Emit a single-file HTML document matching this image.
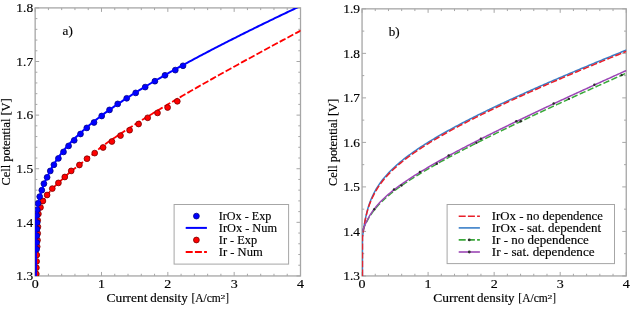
<!DOCTYPE html>
<html><head><meta charset="utf-8"><style>html,body{margin:0;padding:0;background:#fff;overflow:hidden}svg{display:block;will-change:transform}</style></head>
<body><svg width="637" height="311" viewBox="0 0 637 311" font-family='"Liberation Serif", serif' fill="#000">
<style>text{stroke:#000;stroke-width:0.15px}</style>
<rect width="637" height="311" fill="#fff"/>
<clipPath id="cL"><rect x="35.15" y="7.9" width="265.35" height="268.05"/></clipPath>
<clipPath id="cR"><rect x="362.05" y="8.85" width="264.2" height="267.09999999999997"/></clipPath>
<path d="M35.15 275.95v-4M35.15 7.90v4M48.42 275.95v-2.2M48.42 7.90v2.2M61.69 275.95v-2.2M61.69 7.90v2.2M74.95 275.95v-2.2M74.95 7.90v2.2M88.22 275.95v-2.2M88.22 7.90v2.2M101.49 275.95v-4M101.49 7.90v4M114.76 275.95v-2.2M114.76 7.90v2.2M128.02 275.95v-2.2M128.02 7.90v2.2M141.29 275.95v-2.2M141.29 7.90v2.2M154.56 275.95v-2.2M154.56 7.90v2.2M167.83 275.95v-4M167.83 7.90v4M181.09 275.95v-2.2M181.09 7.90v2.2M194.36 275.95v-2.2M194.36 7.90v2.2M207.63 275.95v-2.2M207.63 7.90v2.2M220.90 275.95v-2.2M220.90 7.90v2.2M234.16 275.95v-4M234.16 7.90v4M247.43 275.95v-2.2M247.43 7.90v2.2M260.70 275.95v-2.2M260.70 7.90v2.2M273.97 275.95v-2.2M273.97 7.90v2.2M287.23 275.95v-2.2M287.23 7.90v2.2M300.50 275.95v-4M300.50 7.90v4M35.15 275.95h4M300.50 275.95h-4M35.15 265.23h2.2M300.50 265.23h-2.2M35.15 254.51h2.2M300.50 254.51h-2.2M35.15 243.78h2.2M300.50 243.78h-2.2M35.15 233.06h2.2M300.50 233.06h-2.2M35.15 222.34h4M300.50 222.34h-4M35.15 211.62h2.2M300.50 211.62h-2.2M35.15 200.90h2.2M300.50 200.90h-2.2M35.15 190.17h2.2M300.50 190.17h-2.2M35.15 179.45h2.2M300.50 179.45h-2.2M35.15 168.73h4M300.50 168.73h-4M35.15 158.01h2.2M300.50 158.01h-2.2M35.15 147.29h2.2M300.50 147.29h-2.2M35.15 136.56h2.2M300.50 136.56h-2.2M35.15 125.84h2.2M300.50 125.84h-2.2M35.15 115.12h4M300.50 115.12h-4M35.15 104.40h2.2M300.50 104.40h-2.2M35.15 93.68h2.2M300.50 93.68h-2.2M35.15 82.95h2.2M300.50 82.95h-2.2M35.15 72.23h2.2M300.50 72.23h-2.2M35.15 61.51h4M300.50 61.51h-4M35.15 50.79h2.2M300.50 50.79h-2.2M35.15 40.07h2.2M300.50 40.07h-2.2M35.15 29.34h2.2M300.50 29.34h-2.2M35.15 18.62h2.2M300.50 18.62h-2.2M35.15 7.90h4M300.50 7.90h-4" stroke="#a6a6a6" stroke-width="1" fill="none"/>
<rect x="35.15" y="7.90" width="265.35" height="268.05" fill="none" stroke="#a6a6a6" stroke-width="1.3"/>
<g clip-path="url(#cL)">
<path d="M35.95 277.95 L35.95 230.00 L37.70 220.30 L38.40 213.90 L40.50 207.40 L42.90 201.00 L47.10 195.00 L52.30 188.60 L58.40 182.90 L64.80 177.00 L71.20 170.90 L79.40 165.00 L87.00 158.70 L94.70 153.10 L100.00 147.82 L101.37 146.84 L102.74 145.87 L104.10 144.91 L105.47 143.95 L106.84 143.00 L108.21 142.05 L109.58 141.11 L110.94 140.18 L112.31 139.25 L113.68 138.32 L115.05 137.40 L116.41 136.49 L117.78 135.58 L119.15 134.67 L120.52 133.77 L121.89 132.87 L123.25 131.97 L124.62 131.08 L125.99 130.19 L127.36 129.31 L128.73 128.43 L130.09 127.55 L131.46 126.68 L132.83 125.81 L134.20 124.94 L135.57 124.08 L136.93 123.22 L138.30 122.36 L139.67 121.50 L141.04 120.65 L142.40 119.80 L143.77 118.95 L145.14 118.11 L146.51 117.26 L147.88 116.42 L149.24 115.59 L150.61 114.75 L151.98 113.92 L153.35 113.09 L154.72 112.26 L156.08 111.43 L157.45 110.60 L158.82 109.78 L160.19 108.96 L161.56 108.14 L162.92 107.32 L164.29 106.51 L165.66 105.69 L167.03 104.88 L168.39 104.07 L169.76 103.26 L171.13 102.46 L172.50 101.65 L173.87 100.85 L175.23 100.04 L176.60 99.24 L177.97 98.44 L179.34 97.65 L180.71 96.85 L182.07 96.06 L183.44 95.26 L184.81 94.47 L186.18 93.68 L187.55 92.89 L188.91 92.10 L190.28 91.31 L191.65 90.53 L193.02 89.74 L194.38 88.96 L195.75 88.18 L197.12 87.40 L198.49 86.62 L199.86 85.84 L201.22 85.06 L202.59 84.28 L203.96 83.51 L205.33 82.73 L206.70 81.96 L208.06 81.19 L209.43 80.42 L210.80 79.65 L212.17 78.88 L213.54 78.11 L214.90 77.34 L216.27 76.57 L217.64 75.81 L219.01 75.04 L220.38 74.28 L221.74 73.51 L223.11 72.75 L224.48 71.99 L225.85 71.23 L227.21 70.47 L228.58 69.71 L229.95 68.95 L231.32 68.20 L232.69 67.44 L234.05 66.68 L235.42 65.93 L236.79 65.17 L238.16 64.42 L239.53 63.67 L240.89 62.92 L242.26 62.16 L243.63 61.41 L245.00 60.66 L246.37 59.91 L247.73 59.16 L249.10 58.42 L250.47 57.67 L251.84 56.92 L253.20 56.18 L254.57 55.43 L255.94 54.69 L257.31 53.94 L258.68 53.20 L260.04 52.45 L261.41 51.71 L262.78 50.97 L264.15 50.23 L265.52 49.49 L266.88 48.75 L268.25 48.01 L269.62 47.27 L270.99 46.53 L272.36 45.79 L273.72 45.05 L275.09 44.32 L276.46 43.58 L277.83 42.85 L279.19 42.11 L280.56 41.38 L281.93 40.64 L283.30 39.91 L284.67 39.17 L286.03 38.44 L287.40 37.71 L288.77 36.98 L290.14 36.24 L291.51 35.51 L292.87 34.78 L294.24 34.05 L295.61 33.32 L296.98 32.59 L298.35 31.86 L299.71 31.14 L301.08 30.41 L302.45 29.68 L303.82 28.95" stroke="#ff0000" stroke-width="1.8" fill="none" stroke-dasharray="6.6 2.2" stroke-dashoffset="4.5"/>
<circle cx="37.9" cy="226.8" r="2.9" fill="#ff0000" stroke="#7a0000" stroke-width="0.8"/>
<circle cx="37.7" cy="233.4" r="2.9" fill="#ff0000" stroke="#7a0000" stroke-width="0.8"/>
<circle cx="37.5" cy="240.2" r="2.9" fill="#ff0000" stroke="#7a0000" stroke-width="0.8"/>
<circle cx="37.2" cy="246.7" r="2.9" fill="#ff0000" stroke="#7a0000" stroke-width="0.8"/>
<circle cx="36.8" cy="255" r="2.9" fill="#ff0000" stroke="#7a0000" stroke-width="0.8"/>
<circle cx="36.6" cy="261.4" r="2.9" fill="#ff0000" stroke="#7a0000" stroke-width="0.8"/>
<circle cx="36.4" cy="267.7" r="2.9" fill="#ff0000" stroke="#7a0000" stroke-width="0.8"/>
<circle cx="36.3" cy="274" r="2.9" fill="#ff0000" stroke="#7a0000" stroke-width="0.8"/>
<circle cx="37.7" cy="220.3" r="2.9" fill="#ff0000" stroke="#7a0000" stroke-width="0.8"/>
<circle cx="38.4" cy="213.9" r="2.9" fill="#ff0000" stroke="#7a0000" stroke-width="0.8"/>
<circle cx="40.5" cy="207.4" r="2.9" fill="#ff0000" stroke="#7a0000" stroke-width="0.8"/>
<circle cx="42.9" cy="201" r="2.9" fill="#ff0000" stroke="#7a0000" stroke-width="0.8"/>
<circle cx="47.1" cy="195" r="2.9" fill="#ff0000" stroke="#7a0000" stroke-width="0.8"/>
<circle cx="52.3" cy="188.6" r="2.9" fill="#ff0000" stroke="#7a0000" stroke-width="0.8"/>
<circle cx="58.4" cy="182.9" r="2.9" fill="#ff0000" stroke="#7a0000" stroke-width="0.8"/>
<circle cx="64.8" cy="177" r="2.9" fill="#ff0000" stroke="#7a0000" stroke-width="0.8"/>
<circle cx="71.2" cy="170.9" r="2.9" fill="#ff0000" stroke="#7a0000" stroke-width="0.8"/>
<circle cx="79.4" cy="165" r="2.9" fill="#ff0000" stroke="#7a0000" stroke-width="0.8"/>
<circle cx="87" cy="158.7" r="2.9" fill="#ff0000" stroke="#7a0000" stroke-width="0.8"/>
<circle cx="94.7" cy="153.1" r="2.9" fill="#ff0000" stroke="#7a0000" stroke-width="0.8"/>
<circle cx="103.1" cy="147.5" r="2.9" fill="#ff0000" stroke="#7a0000" stroke-width="0.8"/>
<circle cx="111.9" cy="141.5" r="2.9" fill="#ff0000" stroke="#7a0000" stroke-width="0.8"/>
<circle cx="120.5" cy="135.6" r="2.9" fill="#ff0000" stroke="#7a0000" stroke-width="0.8"/>
<circle cx="129.6" cy="130.2" r="2.9" fill="#ff0000" stroke="#7a0000" stroke-width="0.8"/>
<circle cx="138.6" cy="124" r="2.9" fill="#ff0000" stroke="#7a0000" stroke-width="0.8"/>
<circle cx="147.7" cy="117.8" r="2.9" fill="#ff0000" stroke="#7a0000" stroke-width="0.8"/>
<circle cx="157.5" cy="112.9" r="2.9" fill="#ff0000" stroke="#7a0000" stroke-width="0.8"/>
<circle cx="167.6" cy="107.5" r="2.9" fill="#ff0000" stroke="#7a0000" stroke-width="0.8"/>
<circle cx="177.3" cy="101.3" r="2.9" fill="#ff0000" stroke="#7a0000" stroke-width="0.8"/>
<circle cx="37.2" cy="222.5" r="2.9" fill="#0000ff" stroke="#000080" stroke-width="0.8"/>
<circle cx="37.0" cy="229" r="2.9" fill="#0000ff" stroke="#000080" stroke-width="0.8"/>
<circle cx="36.8" cy="235.7" r="2.9" fill="#0000ff" stroke="#000080" stroke-width="0.8"/>
<circle cx="36.7" cy="242.5" r="2.9" fill="#0000ff" stroke="#000080" stroke-width="0.8"/>
<circle cx="36.6" cy="249.2" r="2.9" fill="#0000ff" stroke="#000080" stroke-width="0.8"/>
<circle cx="36.8" cy="215.5" r="2.9" fill="#0000ff" stroke="#000080" stroke-width="0.8"/>
<circle cx="37.3" cy="209.8" r="2.9" fill="#0000ff" stroke="#000080" stroke-width="0.8"/>
<circle cx="38" cy="203.4" r="2.9" fill="#0000ff" stroke="#000080" stroke-width="0.8"/>
<circle cx="39.7" cy="196.6" r="2.9" fill="#0000ff" stroke="#000080" stroke-width="0.8"/>
<circle cx="41.8" cy="190.2" r="2.9" fill="#0000ff" stroke="#000080" stroke-width="0.8"/>
<circle cx="43.9" cy="183.7" r="2.9" fill="#0000ff" stroke="#000080" stroke-width="0.8"/>
<circle cx="47.1" cy="177.3" r="2.9" fill="#0000ff" stroke="#000080" stroke-width="0.8"/>
<circle cx="50.3" cy="170.9" r="2.9" fill="#0000ff" stroke="#000080" stroke-width="0.8"/>
<circle cx="53.9" cy="164.8" r="2.9" fill="#0000ff" stroke="#000080" stroke-width="0.8"/>
<circle cx="58.4" cy="158.4" r="2.9" fill="#0000ff" stroke="#000080" stroke-width="0.8"/>
<circle cx="63.5" cy="151.9" r="2.9" fill="#0000ff" stroke="#000080" stroke-width="0.8"/>
<circle cx="68.6" cy="145.9" r="2.9" fill="#0000ff" stroke="#000080" stroke-width="0.8"/>
<circle cx="74.2" cy="140.3" r="2.9" fill="#0000ff" stroke="#000080" stroke-width="0.8"/>
<circle cx="80.5" cy="134" r="2.9" fill="#0000ff" stroke="#000080" stroke-width="0.8"/>
<circle cx="86.8" cy="127.9" r="2.9" fill="#0000ff" stroke="#000080" stroke-width="0.8"/>
<circle cx="94" cy="122.5" r="2.9" fill="#0000ff" stroke="#000080" stroke-width="0.8"/>
<circle cx="101.7" cy="116" r="2.9" fill="#0000ff" stroke="#000080" stroke-width="0.8"/>
<circle cx="109.5" cy="109.9" r="2.9" fill="#0000ff" stroke="#000080" stroke-width="0.8"/>
<circle cx="117.7" cy="103.9" r="2.9" fill="#0000ff" stroke="#000080" stroke-width="0.8"/>
<circle cx="126.7" cy="98.3" r="2.9" fill="#0000ff" stroke="#000080" stroke-width="0.8"/>
<circle cx="135.7" cy="92.9" r="2.9" fill="#0000ff" stroke="#000080" stroke-width="0.8"/>
<circle cx="145.2" cy="87.1" r="2.9" fill="#0000ff" stroke="#000080" stroke-width="0.8"/>
<circle cx="154.9" cy="81.2" r="2.9" fill="#0000ff" stroke="#000080" stroke-width="0.8"/>
<circle cx="165" cy="75.3" r="2.9" fill="#0000ff" stroke="#000080" stroke-width="0.8"/>
<circle cx="175.3" cy="70.1" r="2.9" fill="#0000ff" stroke="#000080" stroke-width="0.8"/>
<circle cx="183" cy="65.8" r="2.9" fill="#0000ff" stroke="#000080" stroke-width="0.8"/>
<path d="M35.95 277.95 L35.95 218.00 L37.30 209.80 L38.00 203.40 L39.70 196.60 L41.80 190.20 L43.90 183.70 L47.10 177.30 L50.00 171.08 L51.70 167.91 L53.41 164.98 L55.11 162.23 L56.81 159.64 L58.52 157.20 L60.22 154.87 L61.92 152.65 L63.63 150.53 L65.33 148.48 L67.03 146.52 L68.74 144.61 L70.44 142.77 L72.15 140.99 L73.85 139.25 L75.55 137.56 L77.26 135.91 L78.96 134.31 L80.66 132.73 L82.37 131.19 L84.07 129.69 L85.77 128.21 L87.48 126.76 L89.18 125.33 L90.88 123.93 L92.59 122.55 L94.29 121.19 L95.99 119.85 L97.70 118.53 L99.40 117.23 L101.10 115.94 L102.81 114.67 L104.51 113.42 L106.21 112.18 L107.92 110.95 L109.62 109.74 L111.32 108.54 L113.03 107.36 L114.73 106.18 L116.44 105.02 L118.14 103.86 L119.84 102.72 L121.55 101.58 L123.25 100.46 L124.95 99.34 L126.66 98.24 L128.36 97.14 L130.06 96.05 L131.77 94.96 L133.47 93.89 L135.17 92.82 L136.88 91.76 L138.58 90.71 L140.28 89.66 L141.99 88.62 L143.69 87.58 L145.39 86.55 L147.10 85.53 L148.80 84.51 L150.50 83.50 L152.21 82.49 L153.91 81.49 L155.62 80.50 L157.32 79.50 L159.02 78.52 L160.73 77.53 L162.43 76.56 L164.13 75.58 L165.84 74.61 L167.54 73.65 L169.24 72.69 L170.95 71.73 L172.65 70.77 L174.35 69.82 L176.06 68.88 L177.76 67.94 L179.46 67.00 L181.17 66.06 L182.87 65.13 L184.57 64.20 L186.28 63.27 L187.98 62.35 L189.68 61.43 L191.39 60.51 L193.09 59.60 L194.79 58.69 L196.50 57.78 L198.20 56.87 L199.91 55.97 L201.61 55.07 L203.31 54.17 L205.02 53.27 L206.72 52.38 L208.42 51.49 L210.13 50.60 L211.83 49.71 L213.53 48.83 L215.24 47.95 L216.94 47.07 L218.64 46.19 L220.35 45.32 L222.05 44.44 L223.75 43.57 L225.46 42.70 L227.16 41.84 L228.86 40.97 L230.57 40.11 L232.27 39.24 L233.97 38.39 L235.68 37.53 L237.38 36.67 L239.09 35.82 L240.79 34.96 L242.49 34.11 L244.20 33.26 L245.90 32.41 L247.60 31.57 L249.31 30.72 L251.01 29.88 L252.71 29.04 L254.42 28.20 L256.12 27.36 L257.82 26.52 L259.53 25.69 L261.23 24.85 L262.93 24.02 L264.64 23.19 L266.34 22.36 L268.04 21.53 L269.75 20.70 L271.45 19.87 L273.15 19.05 L274.86 18.22 L276.56 17.40 L278.26 16.58 L279.97 15.76 L281.67 14.94 L283.38 14.12 L285.08 13.30 L286.78 12.49 L288.49 11.67 L290.19 10.86 L291.89 10.05 L293.60 9.23 L295.30 8.42 L297.00 7.61 L298.71 6.81 L300.41 6.00 L302.11 5.19 L303.82 4.39" stroke="#0000ff" stroke-width="2" fill="none"/>
</g>
<text x="33.15" y="280.25" font-size="11.6" text-anchor="end" textLength="16.8" lengthAdjust="spacingAndGlyphs" >1.3</text>
<text x="33.15" y="226.64" font-size="11.6" text-anchor="end" textLength="16.8" lengthAdjust="spacingAndGlyphs" >1.4</text>
<text x="33.15" y="173.03" font-size="11.6" text-anchor="end" textLength="16.8" lengthAdjust="spacingAndGlyphs" >1.5</text>
<text x="33.15" y="119.42" font-size="11.6" text-anchor="end" textLength="16.8" lengthAdjust="spacingAndGlyphs" >1.6</text>
<text x="33.15" y="65.81" font-size="11.6" text-anchor="end" textLength="16.8" lengthAdjust="spacingAndGlyphs" >1.7</text>
<text x="33.15" y="12.20" font-size="11.6" text-anchor="end" textLength="16.8" lengthAdjust="spacingAndGlyphs" >1.8</text>
<text x="35.15" y="288.10" font-size="11.6" text-anchor="middle" textLength="7.0" lengthAdjust="spacingAndGlyphs" >0</text>
<text x="101.49" y="288.10" font-size="11.6" text-anchor="middle" textLength="7.0" lengthAdjust="spacingAndGlyphs" >1</text>
<text x="167.83" y="288.10" font-size="11.6" text-anchor="middle" textLength="7.0" lengthAdjust="spacingAndGlyphs" >2</text>
<text x="234.16" y="288.10" font-size="11.6" text-anchor="middle" textLength="7.0" lengthAdjust="spacingAndGlyphs" >3</text>
<text x="300.50" y="288.10" font-size="11.6" text-anchor="middle" textLength="7.0" lengthAdjust="spacingAndGlyphs" >4</text>
<text x="106.40" y="302.40" font-size="11.6" text-anchor="start" textLength="41.2" lengthAdjust="spacingAndGlyphs" >Current</text>
<text x="150.20" y="302.40" font-size="11.6" text-anchor="start" textLength="37.5" lengthAdjust="spacingAndGlyphs" >density</text>
<text x="191.40" y="302.40" font-size="11.6" text-anchor="start" textLength="29.4" lengthAdjust="spacingAndGlyphs" >[A/cm</text>
<text x="220.60" y="298.50" font-size="7.0" text-anchor="start" textLength="4.8" lengthAdjust="spacingAndGlyphs" >2</text>
<text x="225.60" y="302.40" font-size="11.6" text-anchor="start" textLength="3.4" lengthAdjust="spacingAndGlyphs" >]</text>
<text transform="translate(9.75 141.92) rotate(-90)" x="0" y="0" font-size="11.8" text-anchor="middle" textLength="87" lengthAdjust="spacingAndGlyphs">Cell potential [V]</text>
<text x="62.60" y="35.20" font-size="13.1" text-anchor="start" >a)</text>
<path d="M362.05 275.95v-4M362.05 8.85v4M375.26 275.95v-2.2M375.26 8.85v2.2M388.47 275.95v-2.2M388.47 8.85v2.2M401.68 275.95v-2.2M401.68 8.85v2.2M414.89 275.95v-2.2M414.89 8.85v2.2M428.10 275.95v-4M428.10 8.85v4M441.31 275.95v-2.2M441.31 8.85v2.2M454.52 275.95v-2.2M454.52 8.85v2.2M467.73 275.95v-2.2M467.73 8.85v2.2M480.94 275.95v-2.2M480.94 8.85v2.2M494.15 275.95v-4M494.15 8.85v4M507.36 275.95v-2.2M507.36 8.85v2.2M520.57 275.95v-2.2M520.57 8.85v2.2M533.78 275.95v-2.2M533.78 8.85v2.2M546.99 275.95v-2.2M546.99 8.85v2.2M560.20 275.95v-4M560.20 8.85v4M573.41 275.95v-2.2M573.41 8.85v2.2M586.62 275.95v-2.2M586.62 8.85v2.2M599.83 275.95v-2.2M599.83 8.85v2.2M613.04 275.95v-2.2M613.04 8.85v2.2M626.25 275.95v-4M626.25 8.85v4M362.05 275.95h4M626.25 275.95h-4M362.05 253.69h2.2M626.25 253.69h-2.2M362.05 231.43h4M626.25 231.43h-4M362.05 209.17h2.2M626.25 209.17h-2.2M362.05 186.92h4M626.25 186.92h-4M362.05 164.66h2.2M626.25 164.66h-2.2M362.05 142.40h4M626.25 142.40h-4M362.05 120.14h2.2M626.25 120.14h-2.2M362.05 97.88h4M626.25 97.88h-4M362.05 75.62h2.2M626.25 75.62h-2.2M362.05 53.37h4M626.25 53.37h-4M362.05 31.11h2.2M626.25 31.11h-2.2M362.05 8.85h4M626.25 8.85h-4" stroke="#a6a6a6" stroke-width="1" fill="none"/>
<rect x="362.05" y="8.85" width="264.20" height="267.10" fill="none" stroke="#a6a6a6" stroke-width="1.3"/>
<g clip-path="url(#cR)">
<path d="M362.45 275.95 L362.46 237.29 L362.46 237.28 L362.46 237.27 L362.46 237.26 L362.46 237.24 L362.46 237.23 L362.47 237.21 L362.47 237.19 L362.47 237.16 L362.48 237.13 L362.48 237.10 L362.49 237.06 L362.49 237.01 L362.50 236.96 L362.51 236.89 L362.52 236.82 L362.53 236.73 L362.55 236.62 L362.57 236.50 L362.59 236.35 L362.61 236.19 L362.64 235.99 L362.67 235.76 L362.71 235.48 L362.75 235.16 L362.80 234.79 L362.87 234.36 L362.94 233.85 L363.02 233.25 L363.12 232.56 L363.24 231.75 L363.37 230.82 L363.53 229.74 L363.72 228.50 L363.94 227.08 L364.20 225.47 L364.50 223.67 L364.85 221.66 L365.27 219.46 L365.75 217.06 L365.75 217.06 L367.06 211.46 L368.37 206.84 L369.69 202.91 L371.00 199.50 L372.31 196.48 L373.62 193.75 L374.93 191.27 L376.24 188.98 L377.55 186.85 L378.86 184.86 L380.17 182.99 L381.49 181.22 L382.80 179.53 L384.11 177.92 L385.42 176.38 L386.73 174.90 L388.04 173.47 L389.35 172.09 L390.66 170.76 L391.97 169.47 L393.28 168.21 L394.60 166.99 L395.91 165.80 L397.22 164.64 L398.53 163.50 L399.84 162.39 L401.15 161.30 L402.46 160.24 L403.77 159.19 L405.08 158.17 L406.39 157.16 L407.71 156.16 L409.02 155.19 L410.33 154.23 L411.64 153.28 L412.95 152.35 L414.26 151.43 L415.57 150.52 L416.88 149.62 L418.19 148.73 L419.51 147.86 L420.82 146.99 L422.13 146.13 L423.44 145.29 L424.75 144.45 L426.06 143.62 L427.37 142.80 L428.68 141.98 L429.99 141.17 L431.30 140.37 L432.62 139.58 L433.93 138.79 L435.24 138.01 L436.55 137.24 L437.86 136.47 L439.17 135.71 L440.48 134.95 L441.79 134.20 L443.10 133.45 L444.42 132.71 L445.73 131.98 L447.04 131.24 L448.35 130.52 L449.66 129.79 L450.97 129.08 L452.28 128.36 L453.59 127.65 L454.90 126.94 L456.21 126.24 L457.53 125.54 L458.84 124.85 L460.15 124.16 L461.46 123.47 L462.77 122.78 L464.08 122.10 L465.39 121.42 L466.70 120.75 L468.01 120.07 L469.32 119.40 L470.64 118.74 L471.95 118.07 L473.26 117.41 L474.57 116.75 L475.88 116.10 L477.19 115.44 L478.50 114.79 L479.81 114.14 L481.12 113.50 L482.44 112.85 L483.75 112.21 L485.06 111.57 L486.37 110.93 L487.68 110.30 L488.99 109.66 L490.30 109.03 L491.61 108.40 L492.92 107.78 L494.23 107.15 L495.55 106.53 L496.86 105.91 L498.17 105.29 L499.48 104.67 L500.79 104.05 L502.10 103.44 L503.41 102.82 L504.72 102.21 L506.03 101.60 L507.35 100.99 L508.66 100.39 L509.97 99.78 L511.28 99.18 L512.59 98.58 L513.90 97.98 L515.21 97.38 L516.52 96.78 L517.83 96.18 L519.14 95.59 L520.46 94.99 L521.77 94.40 L523.08 93.81 L524.39 93.22 L525.70 92.63 L527.01 92.04 L528.32 91.46 L529.63 90.87 L530.94 90.29 L532.25 89.71 L533.57 89.12 L534.88 88.54 L536.19 87.96 L537.50 87.39 L538.81 86.81 L540.12 86.23 L541.43 85.66 L542.74 85.08 L544.05 84.51 L545.37 83.94 L546.68 83.37 L547.99 82.79 L549.30 82.23 L550.61 81.66 L551.92 81.09 L553.23 80.52 L554.54 79.96 L555.85 79.39 L557.16 78.83 L558.48 78.27 L559.79 77.70 L561.10 77.14 L562.41 76.58 L563.72 76.02 L565.03 75.46 L566.34 74.90 L567.65 74.35 L568.96 73.79 L570.28 73.23 L571.59 72.68 L572.90 72.12 L574.21 71.57 L575.52 71.02 L576.83 70.47 L578.14 69.91 L579.45 69.36 L580.76 68.81 L582.07 68.26 L583.39 67.72 L584.70 67.17 L586.01 66.62 L587.32 66.07 L588.63 65.53 L589.94 64.98 L591.25 64.44 L592.56 63.89 L593.87 63.35 L595.18 62.81 L596.50 62.26 L597.81 61.72 L599.12 61.18 L600.43 60.64 L601.74 60.10 L603.05 59.56 L604.36 59.02 L605.67 58.48 L606.98 57.95 L608.30 57.41 L609.61 56.87 L610.92 56.34 L612.23 55.80 L613.54 55.26 L614.85 54.73 L616.16 54.20 L617.47 53.66 L618.78 53.13 L620.09 52.60 L621.41 52.06 L622.72 51.53 L624.03 51.00 L625.34 50.47 L626.65 49.94" stroke="#3a7fc8" stroke-width="1.5" fill="none"/>
<path d="M362.45 275.95 L362.46 237.29 L362.46 237.28 L362.46 237.27 L362.46 237.26 L362.46 237.25 L362.46 237.23 L362.47 237.21 L362.47 237.19 L362.47 237.17 L362.48 237.14 L362.48 237.10 L362.49 237.06 L362.49 237.02 L362.50 236.96 L362.51 236.90 L362.52 236.83 L362.53 236.74 L362.55 236.63 L362.57 236.51 L362.59 236.37 L362.61 236.21 L362.64 236.01 L362.67 235.78 L362.71 235.52 L362.75 235.20 L362.80 234.84 L362.87 234.41 L362.94 233.91 L363.02 233.33 L363.12 232.65 L363.24 231.85 L363.37 230.94 L363.53 229.88 L363.72 228.66 L363.94 227.27 L364.20 225.70 L364.50 223.94 L364.85 221.98 L365.27 219.83 L365.75 217.49 L365.75 217.49 L367.06 212.07 L368.37 207.62 L369.69 203.86 L371.00 200.62 L372.31 197.77 L373.62 195.05 L374.93 192.57 L376.24 190.28 L377.55 188.15 L378.86 186.16 L380.17 184.29 L381.49 182.52 L382.80 180.83 L384.11 179.22 L385.42 177.68 L386.73 176.20 L388.04 174.77 L389.35 173.39 L390.66 172.06 L391.97 170.77 L393.28 169.51 L394.60 168.29 L395.91 167.10 L397.22 165.94 L398.53 164.80 L399.84 163.69 L401.15 162.60 L402.46 161.54 L403.77 160.49 L405.08 159.47 L406.39 158.46 L407.71 157.46 L409.02 156.49 L410.33 155.53 L411.64 154.58 L412.95 153.65 L414.26 152.73 L415.57 151.82 L416.88 150.92 L418.19 150.03 L419.51 149.16 L420.82 148.29 L422.13 147.43 L423.44 146.59 L424.75 145.75 L426.06 144.92 L427.37 144.10 L428.68 143.28 L429.99 142.47 L431.30 141.67 L432.62 140.88 L433.93 140.09 L435.24 139.31 L436.55 138.54 L437.86 137.77 L439.17 137.01 L440.48 136.25 L441.79 135.50 L443.10 134.75 L444.42 134.01 L445.73 133.28 L447.04 132.54 L448.35 131.82 L449.66 131.09 L450.97 130.38 L452.28 129.66 L453.59 128.95 L454.90 128.24 L456.21 127.54 L457.53 126.84 L458.84 126.15 L460.15 125.46 L461.46 124.77 L462.77 124.08 L464.08 123.40 L465.39 122.72 L466.70 122.05 L468.01 121.37 L469.32 120.70 L470.64 120.04 L471.95 119.37 L473.26 118.71 L474.57 118.05 L475.88 117.40 L477.19 116.74 L478.50 116.09 L479.81 115.44 L481.12 114.80 L482.44 114.15 L483.75 113.51 L485.06 112.87 L486.37 112.23 L487.68 111.60 L488.99 110.96 L490.30 110.33 L491.61 109.70 L492.92 109.08 L494.23 108.45 L495.55 107.83 L496.86 107.21 L498.17 106.59 L499.48 105.97 L500.79 105.35 L502.10 104.74 L503.41 104.12 L504.72 103.51 L506.03 102.90 L507.35 102.29 L508.66 101.69 L509.97 101.08 L511.28 100.48 L512.59 99.88 L513.90 99.28 L515.21 98.68 L516.52 98.08 L517.83 97.48 L519.14 96.89 L520.46 96.29 L521.77 95.70 L523.08 95.11 L524.39 94.52 L525.70 93.93 L527.01 93.34 L528.32 92.76 L529.63 92.17 L530.94 91.59 L532.25 91.01 L533.57 90.42 L534.88 89.84 L536.19 89.26 L537.50 88.69 L538.81 88.11 L540.12 87.53 L541.43 86.96 L542.74 86.38 L544.05 85.81 L545.37 85.24 L546.68 84.67 L547.99 84.09 L549.30 83.53 L550.61 82.96 L551.92 82.39 L553.23 81.82 L554.54 81.26 L555.85 80.69 L557.16 80.13 L558.48 79.57 L559.79 79.00 L561.10 78.44 L562.41 77.88 L563.72 77.32 L565.03 76.76 L566.34 76.20 L567.65 75.65 L568.96 75.09 L570.28 74.53 L571.59 73.98 L572.90 73.42 L574.21 72.87 L575.52 72.32 L576.83 71.77 L578.14 71.21 L579.45 70.66 L580.76 70.11 L582.07 69.56 L583.39 69.02 L584.70 68.47 L586.01 67.92 L587.32 67.37 L588.63 66.83 L589.94 66.28 L591.25 65.74 L592.56 65.19 L593.87 64.65 L595.18 64.11 L596.50 63.56 L597.81 63.02 L599.12 62.48 L600.43 61.94 L601.74 61.40 L603.05 60.86 L604.36 60.32 L605.67 59.78 L606.98 59.25 L608.30 58.71 L609.61 58.17 L610.92 57.64 L612.23 57.10 L613.54 56.56 L614.85 56.03 L616.16 55.50 L617.47 54.96 L618.78 54.43 L620.09 53.90 L621.41 53.36 L622.72 52.83 L624.03 52.30 L625.34 51.77 L626.65 51.24" stroke="#e8202a" stroke-width="1.5" fill="none" stroke-dasharray="6.4 2.3"/>
<path d="M362.46 230.59 L362.46 230.59 L362.46 230.59 L362.46 230.58 L362.46 230.58 L362.46 230.57 L362.47 230.57 L362.47 230.56 L362.47 230.55 L362.48 230.54 L362.48 230.53 L362.49 230.52 L362.49 230.51 L362.50 230.49 L362.51 230.47 L362.52 230.45 L362.53 230.42 L362.55 230.39 L362.57 230.35 L362.59 230.31 L362.61 230.25 L362.64 230.19 L362.67 230.12 L362.71 230.04 L362.75 229.94 L362.80 229.83 L362.87 229.69 L362.94 229.53 L363.02 229.35 L363.12 229.13 L363.24 228.88 L363.37 228.58 L363.53 228.24 L363.72 227.83 L363.94 227.36 L364.20 226.81 L364.50 226.17 L364.85 225.42 L365.27 224.56 L365.75 223.58 L365.75 223.58 L367.06 221.04 L368.37 218.67 L369.69 216.48 L371.00 214.45 L372.31 212.55 L373.62 210.77 L374.93 209.10 L376.24 207.52 L377.55 206.02 L378.86 204.59 L380.17 203.22 L381.49 201.90 L382.80 200.62 L384.11 199.39 L385.42 198.20 L386.73 197.05 L388.04 195.92 L389.35 194.82 L390.66 193.75 L391.97 192.70 L393.28 191.67 L394.60 190.67 L395.91 189.68 L397.22 188.71 L398.53 187.75 L399.84 186.81 L401.15 185.89 L402.46 184.97 L403.77 184.07 L405.08 183.18 L406.39 182.30 L407.71 181.43 L409.02 180.58 L410.33 179.73 L411.64 178.88 L412.95 178.05 L414.26 177.23 L415.57 176.41 L416.88 175.60 L418.19 174.79 L419.51 174.00 L420.82 173.20 L422.13 172.42 L423.44 171.64 L424.75 170.86 L426.06 170.09 L427.37 169.33 L428.68 168.57 L429.99 167.81 L431.30 167.06 L432.62 166.32 L433.93 165.57 L435.24 164.83 L436.55 164.10 L437.86 163.37 L439.17 162.64 L440.48 161.92 L441.79 161.19 L443.10 160.48 L444.42 159.76 L445.73 159.05 L447.04 158.34 L448.35 157.64 L449.66 156.93 L450.97 156.23 L452.28 155.53 L453.59 154.84 L454.90 154.15 L456.21 153.45 L457.53 152.77 L458.84 152.08 L460.15 151.40 L461.46 150.71 L462.77 150.03 L464.08 149.36 L465.39 148.68 L466.70 148.01 L468.01 147.33 L469.32 146.66 L470.64 146.00 L471.95 145.33 L473.26 144.66 L474.57 144.00 L475.88 143.34 L477.19 142.68 L478.50 142.02 L479.81 141.36 L481.12 140.71 L482.44 140.05 L483.75 139.40 L485.06 138.75 L486.37 138.10 L487.68 137.45 L488.99 136.80 L490.30 136.15 L491.61 135.51 L492.92 134.86 L494.23 134.22 L495.55 133.58 L496.86 132.94 L498.17 132.30 L499.48 131.66 L500.79 131.03 L502.10 130.39 L503.41 129.75 L504.72 129.12 L506.03 128.49 L507.35 127.86 L508.66 127.22 L509.97 126.59 L511.28 125.96 L512.59 125.34 L513.90 124.71 L515.21 124.08 L516.52 123.46 L517.83 122.83 L519.14 122.21 L520.46 121.59 L521.77 120.96 L523.08 120.34 L524.39 119.72 L525.70 119.10 L527.01 118.48 L528.32 117.86 L529.63 117.25 L530.94 116.63 L532.25 116.01 L533.57 115.40 L534.88 114.78 L536.19 114.17 L537.50 113.55 L538.81 112.94 L540.12 112.33 L541.43 111.72 L542.74 111.11 L544.05 110.50 L545.37 109.89 L546.68 109.28 L547.99 108.67 L549.30 108.06 L550.61 107.46 L551.92 106.85 L553.23 106.24 L554.54 105.64 L555.85 105.03 L557.16 104.43 L558.48 103.82 L559.79 103.22 L561.10 102.62 L562.41 102.01 L563.72 101.41 L565.03 100.81 L566.34 100.21 L567.65 99.61 L568.96 99.01 L570.28 98.41 L571.59 97.81 L572.90 97.21 L574.21 96.62 L575.52 96.02 L576.83 95.42 L578.14 94.82 L579.45 94.23 L580.76 93.63 L582.07 93.04 L583.39 92.44 L584.70 91.85 L586.01 91.25 L587.32 90.66 L588.63 90.07 L589.94 89.47 L591.25 88.88 L592.56 88.29 L593.87 87.70 L595.18 87.11 L596.50 86.51 L597.81 85.92 L599.12 85.33 L600.43 84.74 L601.74 84.15 L603.05 83.56 L604.36 82.98 L605.67 82.39 L606.98 81.80 L608.30 81.21 L609.61 80.62 L610.92 80.04 L612.23 79.45 L613.54 78.86 L614.85 78.28 L616.16 77.69 L617.47 77.11 L618.78 76.52 L620.09 75.94 L621.41 75.35 L622.72 74.77 L624.03 74.18 L625.34 73.60 L626.65 73.02" stroke="#3aa83a" stroke-width="1.5" fill="none" stroke-dasharray="6.4 2.3"/>
<path d="M362.46 230.87 L362.46 230.87 L362.46 230.86 L362.46 230.86 L362.46 230.86 L362.46 230.85 L362.47 230.85 L362.47 230.84 L362.47 230.83 L362.48 230.82 L362.48 230.81 L362.49 230.79 L362.49 230.78 L362.50 230.76 L362.51 230.74 L362.52 230.71 L362.53 230.68 L362.55 230.65 L362.57 230.61 L362.59 230.56 L362.61 230.50 L362.64 230.43 L362.67 230.36 L362.71 230.27 L362.75 230.16 L362.80 230.03 L362.87 229.88 L362.94 229.71 L363.02 229.51 L363.12 229.27 L363.24 228.99 L363.37 228.67 L363.53 228.29 L363.72 227.85 L363.94 227.33 L364.20 226.73 L364.50 226.03 L364.85 225.22 L365.27 224.29 L365.75 223.23 L365.75 223.23 L367.06 220.50 L368.37 218.00 L369.69 215.71 L371.00 213.59 L372.31 211.63 L373.62 209.80 L374.93 208.09 L376.24 206.47 L377.55 204.93 L378.86 203.47 L380.17 202.07 L381.49 200.73 L382.80 199.44 L384.11 198.19 L385.42 196.98 L386.73 195.81 L388.04 194.67 L389.35 193.55 L390.66 192.47 L391.97 191.40 L393.28 190.36 L394.60 189.34 L395.91 188.34 L397.22 187.36 L398.53 186.39 L399.84 185.44 L401.15 184.50 L402.46 183.58 L403.77 182.67 L405.08 181.77 L406.39 180.88 L407.71 180.00 L409.02 179.13 L410.33 178.27 L411.64 177.42 L412.95 176.58 L414.26 175.74 L415.57 174.91 L416.88 174.09 L418.19 173.28 L419.51 172.47 L420.82 171.67 L422.13 170.88 L423.44 170.09 L424.75 169.31 L426.06 168.53 L427.37 167.75 L428.68 166.99 L429.99 166.22 L431.30 165.46 L432.62 164.71 L433.93 163.96 L435.24 163.21 L436.55 162.47 L437.86 161.73 L439.17 160.99 L440.48 160.26 L441.79 159.53 L443.10 158.80 L444.42 158.08 L445.73 157.36 L447.04 156.64 L448.35 155.93 L449.66 155.22 L450.97 154.51 L452.28 153.80 L453.59 153.10 L454.90 152.40 L456.21 151.70 L457.53 151.01 L458.84 150.31 L460.15 149.62 L461.46 148.93 L462.77 148.24 L464.08 147.56 L465.39 146.87 L466.70 146.19 L468.01 145.51 L469.32 144.84 L470.64 144.16 L471.95 143.49 L473.26 142.81 L474.57 142.14 L475.88 141.47 L477.19 140.81 L478.50 140.14 L479.81 139.47 L481.12 138.81 L482.44 138.15 L483.75 137.49 L485.06 136.83 L486.37 136.17 L487.68 135.52 L488.99 134.86 L490.30 134.21 L491.61 133.56 L492.92 132.91 L494.23 132.26 L495.55 131.61 L496.86 130.96 L498.17 130.31 L499.48 129.67 L500.79 129.02 L502.10 128.38 L503.41 127.74 L504.72 127.10 L506.03 126.46 L507.35 125.82 L508.66 125.18 L509.97 124.54 L511.28 123.91 L512.59 123.27 L513.90 122.64 L515.21 122.00 L516.52 121.37 L517.83 120.74 L519.14 120.11 L520.46 119.48 L521.77 118.85 L523.08 118.22 L524.39 117.59 L525.70 116.97 L527.01 116.34 L528.32 115.72 L529.63 115.09 L530.94 114.47 L532.25 113.84 L533.57 113.22 L534.88 112.60 L536.19 111.98 L537.50 111.36 L538.81 110.74 L540.12 110.12 L541.43 109.50 L542.74 108.88 L544.05 108.27 L545.37 107.65 L546.68 107.03 L547.99 106.42 L549.30 105.81 L550.61 105.19 L551.92 104.58 L553.23 103.96 L554.54 103.35 L555.85 102.74 L557.16 102.13 L558.48 101.52 L559.79 100.91 L561.10 100.30 L562.41 99.69 L563.72 99.08 L565.03 98.47 L566.34 97.87 L567.65 97.26 L568.96 96.65 L570.28 96.05 L571.59 95.44 L572.90 94.84 L574.21 94.23 L575.52 93.63 L576.83 93.02 L578.14 92.42 L579.45 91.82 L580.76 91.21 L582.07 90.61 L583.39 90.01 L584.70 89.41 L586.01 88.81 L587.32 88.21 L588.63 87.61 L589.94 87.01 L591.25 86.41 L592.56 85.81 L593.87 85.21 L595.18 84.61 L596.50 84.02 L597.81 83.42 L599.12 82.82 L600.43 82.23 L601.74 81.63 L603.05 81.03 L604.36 80.44 L605.67 79.84 L606.98 79.25 L608.30 78.66 L609.61 78.06 L610.92 77.47 L612.23 76.87 L613.54 76.28 L614.85 75.69 L616.16 75.10 L617.47 74.50 L618.78 73.91 L620.09 73.32 L621.41 72.73 L622.72 72.14 L624.03 71.55 L625.34 70.96 L626.65 70.37" stroke="#9b46b5" stroke-width="1.5" fill="none"/>
<circle cx="394" cy="189.49" r="1.2" fill="#2a2a2a"/>
<circle cx="419.9" cy="171.99" r="1.2" fill="#2a2a2a"/>
<circle cx="448.7" cy="155.52" r="1.2" fill="#2a2a2a"/>
<circle cx="480.9" cy="138.72" r="1.2" fill="#2a2a2a"/>
<circle cx="516.3" cy="121.29" r="1.2" fill="#2a2a2a"/>
<circle cx="553.7" cy="103.56" r="1.2" fill="#2a2a2a"/>
<circle cx="594.4" cy="84.79" r="1.2" fill="#2a2a2a"/>
<circle cx="374.4" cy="209.26" r="1.2" fill="#2a2a2a"/>
<circle cx="401.4" cy="185.43" r="1.2" fill="#2a2a2a"/>
<circle cx="436.8" cy="163.74" r="1.2" fill="#2a2a2a"/>
<circle cx="476.4" cy="142.87" r="1.2" fill="#2a2a2a"/>
<circle cx="520.7" cy="121.28" r="1.2" fill="#2a2a2a"/>
<circle cx="568.9" cy="98.86" r="1.2" fill="#2a2a2a"/>
<circle cx="621.6" cy="75.09" r="1.2" fill="#2a2a2a"/>
</g>
<text x="360.05" y="280.25" font-size="11.6" text-anchor="end" textLength="16.8" lengthAdjust="spacingAndGlyphs" >1.3</text>
<text x="360.05" y="235.73" font-size="11.6" text-anchor="end" textLength="16.8" lengthAdjust="spacingAndGlyphs" >1.4</text>
<text x="360.05" y="191.22" font-size="11.6" text-anchor="end" textLength="16.8" lengthAdjust="spacingAndGlyphs" >1.5</text>
<text x="360.05" y="146.70" font-size="11.6" text-anchor="end" textLength="16.8" lengthAdjust="spacingAndGlyphs" >1.6</text>
<text x="360.05" y="102.18" font-size="11.6" text-anchor="end" textLength="16.8" lengthAdjust="spacingAndGlyphs" >1.7</text>
<text x="360.05" y="57.67" font-size="11.6" text-anchor="end" textLength="16.8" lengthAdjust="spacingAndGlyphs" >1.8</text>
<text x="360.05" y="13.15" font-size="11.6" text-anchor="end" textLength="16.8" lengthAdjust="spacingAndGlyphs" >1.9</text>
<text x="362.05" y="288.10" font-size="11.6" text-anchor="middle" textLength="7.0" lengthAdjust="spacingAndGlyphs" >0</text>
<text x="428.10" y="288.10" font-size="11.6" text-anchor="middle" textLength="7.0" lengthAdjust="spacingAndGlyphs" >1</text>
<text x="494.15" y="288.10" font-size="11.6" text-anchor="middle" textLength="7.0" lengthAdjust="spacingAndGlyphs" >2</text>
<text x="560.20" y="288.10" font-size="11.6" text-anchor="middle" textLength="7.0" lengthAdjust="spacingAndGlyphs" >3</text>
<text x="626.25" y="288.10" font-size="11.6" text-anchor="middle" textLength="7.0" lengthAdjust="spacingAndGlyphs" >4</text>
<text x="433.30" y="302.40" font-size="11.6" text-anchor="start" textLength="41.2" lengthAdjust="spacingAndGlyphs" >Current</text>
<text x="477.10" y="302.40" font-size="11.6" text-anchor="start" textLength="37.5" lengthAdjust="spacingAndGlyphs" >density</text>
<text x="518.30" y="302.40" font-size="11.6" text-anchor="start" textLength="29.4" lengthAdjust="spacingAndGlyphs" >[A/cm</text>
<text x="547.50" y="298.50" font-size="7.0" text-anchor="start" textLength="4.8" lengthAdjust="spacingAndGlyphs" >2</text>
<text x="552.50" y="302.40" font-size="11.6" text-anchor="start" textLength="3.4" lengthAdjust="spacingAndGlyphs" >]</text>
<text transform="translate(336.65 142.40) rotate(-90)" x="0" y="0" font-size="11.8" text-anchor="middle" textLength="87" lengthAdjust="spacingAndGlyphs">Cell potential [V]</text>
<text x="388.80" y="35.50" font-size="13.1" text-anchor="start" >b)</text>
<rect x="174.1" y="204.5" width="114.5" height="59.6" fill="#fff" stroke="#a6a6a6" stroke-width="1"/>
<circle cx="196.4" cy="216.1" r="2.9" fill="#0000ff" stroke="#000080" stroke-width="0.8"/>
<path d="M185.7 227.9H206.9" stroke="#0000ff" stroke-width="2"/>
<circle cx="196.4" cy="240" r="2.9" fill="#ff0000" stroke="#7a0000" stroke-width="0.8"/>
<path d="M185.7 252H206.9" stroke="#ff0000" stroke-width="2" stroke-dasharray="7 2.2"/>
<text x="218.80" y="220.20" font-size="11.9" text-anchor="start" textLength="52.5" lengthAdjust="spacingAndGlyphs" >IrOx - Exp</text>
<text x="218.80" y="232.10" font-size="11.9" text-anchor="start" textLength="58.2" lengthAdjust="spacingAndGlyphs" >IrOx - Num</text>
<text x="218.80" y="243.90" font-size="11.9" text-anchor="start" textLength="38.3" lengthAdjust="spacingAndGlyphs" >Ir - Exp</text>
<text x="218.80" y="255.70" font-size="11.9" text-anchor="start" textLength="43.9" lengthAdjust="spacingAndGlyphs" >Ir - Num</text>
<rect x="447.1" y="204.5" width="167.4" height="59.1" fill="#fff" stroke="#a6a6a6" stroke-width="1"/>
<path d="M458.7 216.3H479.9" stroke="#e8202a" stroke-width="1.6" stroke-dasharray="7 2.2"/>
<path d="M458.7 227.9H479.9" stroke="#3a7fc8" stroke-width="1.6"/>
<path d="M458.7 239.9H479.9" stroke="#3aa83a" stroke-width="1.6" stroke-dasharray="7 2.2"/>
<circle cx="469.3" cy="239.9" r="1.4" fill="#333"/>
<path d="M458.7 252H479.9" stroke="#9b46b5" stroke-width="1.6"/>
<circle cx="469.3" cy="252" r="1.4" fill="#333"/>
<text x="491.80" y="220.20" font-size="11.9" text-anchor="start" textLength="111.1" lengthAdjust="spacingAndGlyphs" >IrOx - no dependence</text>
<text x="491.80" y="232.10" font-size="11.9" text-anchor="start" textLength="109.4" lengthAdjust="spacingAndGlyphs" >IrOx - sat. dependent</text>
<text x="491.80" y="243.90" font-size="11.9" text-anchor="start" textLength="97.0" lengthAdjust="spacingAndGlyphs" >Ir - no dependence</text>
<text x="491.80" y="255.70" font-size="11.9" text-anchor="start" textLength="102.8" lengthAdjust="spacingAndGlyphs" >Ir - sat. dependence</text>
</svg></body></html>
